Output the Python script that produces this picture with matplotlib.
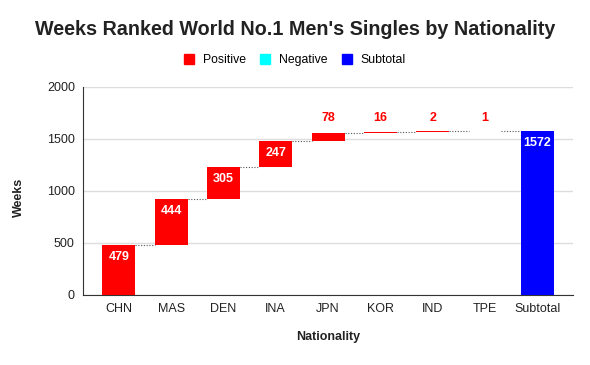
import matplotlib.pyplot as plt
import numpy as np

plt.rcParams['font.family'] = ['Liberation Sans', 'DejaVu Sans']

nations = ['CHN', 'MAS', 'DEN', 'INA', 'JPN', 'KOR', 'IND', 'TPE']
weeks = [479, 444, 305, 247, 78, 16, 2, 1]
total_label = 'Subtotal'

pos_color = '#ff0000'
neg_color = '#00ffff'
sub_color = '#0000ff'

ends = np.cumsum(weeks)
starts = ends - np.array(weeks)
total = ends[-1]

fig = plt.figure(figsize=(5.9, 3.65), dpi=100)
ax = fig.add_axes([0.141, 0.192, 0.83, 0.570])

x = np.arange(len(nations) + 1)
w = 0.63
ax.bar(x[:-1], weeks, bottom=starts, width=w, color=pos_color, zorder=3)
ax.bar(x[-1], total, width=w, color=sub_color, zorder=3)

# dotted connectors
for i in range(len(nations)):
    ax.plot([x[i] + w / 2, x[i + 1] - w / 2], [ends[i], ends[i]],
            ls=(0, (1, 1.5)), color='#555555', lw=0.8, zorder=2)

# value labels
for i, v in enumerate(weeks):
    if v >= 200:
        ax.text(x[i], ends[i] - 55, str(v), ha='center', va='top',
                color='white', fontsize=9, fontweight='bold', zorder=4)
    else:
        ax.text(x[i], 1700, str(v), ha='center', va='center',
                color=pos_color, fontsize=9, fontweight='bold', zorder=4)
ax.text(x[-1], total - 55, str(total), ha='center', va='top',
        color='white', fontsize=9, fontweight='bold', zorder=4)

ax.set_xlim(-0.68, 8.68)
ax.set_ylim(0, 2000)
ax.set_yticks([0, 500, 1000, 1500, 2000])
ax.set_xticks(x)
ax.set_xticklabels(nations + [total_label])
ax.tick_params(length=0, labelsize=9, colors='#222222', pad=6)
ax.grid(axis='y', color='#dddddd', lw=1, zorder=0)
for s in ['top', 'right']:
    ax.spines[s].set_visible(False)
for s in ['left', 'bottom']:
    ax.spines[s].set_color('#333333')

ax.set_xlabel('Nationality', fontsize=9, fontweight='bold', color='#222222')
ax.xaxis.set_label_coords(0.5, -0.175)
ax.set_ylabel('Weeks', fontsize=9, fontweight='bold', color='#222222')
ax.yaxis.set_label_coords(-0.118, 0.47)

fig.suptitle("Weeks Ranked World No.1 Men's Singles by Nationality",
             x=0.5, y=0.945, fontsize=14.2, fontweight='bold', color='#222222')

handles = [plt.Rectangle((0, 0), 1, 1, color=c) for c in (pos_color, neg_color, sub_color)]
fig.legend(handles, ['Positive', 'Negative', 'Subtotal'], loc='center',
           bbox_to_anchor=(0.5, 0.835), ncol=3, frameon=False, fontsize=8.8,
           handlelength=0.8, handleheight=0.9, columnspacing=1.2, handletextpad=0.7)

fig.savefig('out.png', dpi=100, facecolor='white')
